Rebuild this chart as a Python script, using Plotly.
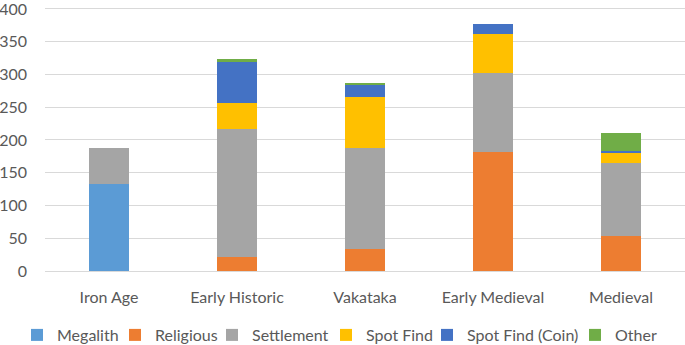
import plotly.graph_objects as go

categories = ["Iron Age", "Early Historic", "Vakataka", "Early Medieval", "Medieval"]
megalith = [133, 0, 0, 0, 0]
religious = [0, 21, 33, 181, 54]
settlement = [54, 196, 154, 121, 111]
spot_find = [0, 40, 78, 60, 16]
spot_find_coin = [0, 63, 19, 15, 2]
other = [0, 3, 3, 0, 28]
y_ticks = [0, 50, 100, 150, 200, 250, 300, 350, 400]

series = [
    ("Megalith", megalith, "#5B9BD5"),
    ("Religious", religious, "#ED7D31"),
    ("Settlement", settlement, "#A5A5A5"),
    ("Spot Find", spot_find, "#FFC000"),
    ("Spot Find (Coin)", spot_find_coin, "#4472C4"),
    ("Other", other, "#70AD47"),
]
legend_text_px = [57, 155, 252, 366, 467, 615]

W, H = 685, 345
ML, MR, MT, MB = 45, 0, 6, 74
PW, PH = W - ML - MR, H - MT - MB
font_family = "Lato, 'Open Sans', sans-serif"
fig = go.Figure()
layout_legends = {}
for i, (name, vals, color) in enumerate(series):
    lg = "legend" if i == 0 else f"legend{i+1}"
    fig.add_trace(go.Bar(
        x=categories, y=vals, name=name,
        marker=dict(color=color, line=dict(width=0)),
        width=0.31, legend=lg,
    ))
    layout_legends[lg] = dict(
        orientation="h", xref="paper", yref="paper",
        x=(legend_text_px[i] - 40 - ML) / PW, xanchor="left",
        y=-(335 - (MT + PH)) / PH, yanchor="middle",
        font=dict(family=font_family, size=16, color="#595959"),
        bgcolor="rgba(0,0,0,0)", borderwidth=0,
    )

fig.update_layout(
    barmode="stack",
    width=W, height=H,
    margin=dict(l=ML, r=MR, t=MT, b=MB, autoexpand=False),
    paper_bgcolor="white", plot_bgcolor="white",
    font=dict(family=font_family, size=16, color="#595959"),
    showlegend=True,
    yaxis=dict(
        range=[0, 404.5], tickvals=y_ticks, showgrid=True, gridcolor="#D9D9D9",
        gridwidth=1, zeroline=False, showline=False, ticks="",
        ticklabelstandoff=17, automargin=False, ticklabeloverflow="allow",
    ),
    xaxis=dict(
        showgrid=False, showline=True, linecolor="#D9D9D9", linewidth=1,
        ticks="", ticklabelstandoff=12, automargin=False,
    ),
    **layout_legends,
)

fig.write_html(
    "out.html",
    config={"displayModeBar": False},
    post_script="document.body.style.margin='0';document.body.style.overflow='hidden';",
)
